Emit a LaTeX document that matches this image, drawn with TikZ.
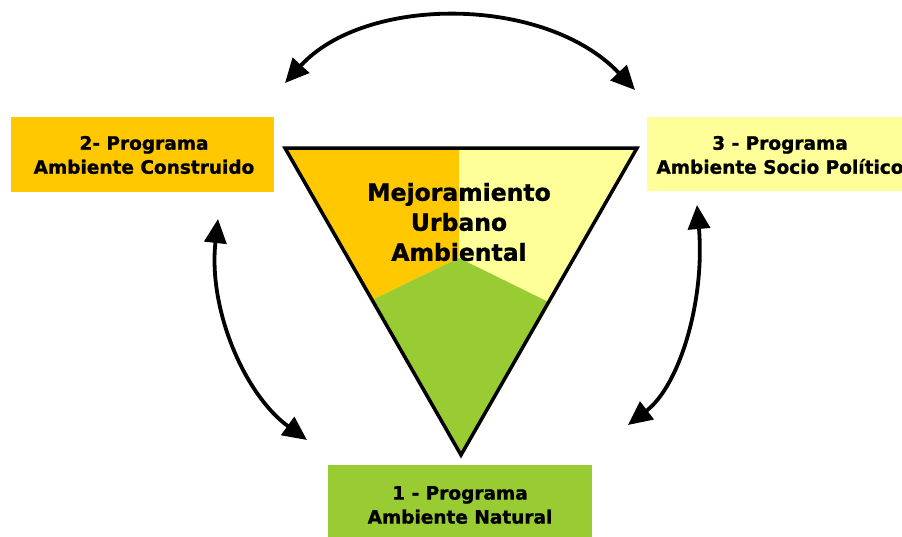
\documentclass[tikz,border=0pt]{standalone}
\usepackage{fontspec}
\setmainfont{DejaVu Sans}
\newfontfamily\heavyfont{DejaVu Sans Bold}[FakeBold=1.2]
\usetikzlibrary{arrows.meta}
\definecolor{orangeC}{RGB}{255,200,0}
\definecolor{yellowC}{RGB}{255,255,153}
\definecolor{greenC}{RGB}{153,204,51}
\tikzset{
  boxtext/.style={align=center,font=\heavyfont\bfseries\fontsize{18.5}{24}\selectfont,inner sep=0pt},
  bigtext/.style={align=center,font=\heavyfont\bfseries\fontsize{23.5}{30}\selectfont,inner sep=0pt},
  link/.style={line width=3.8pt,{Triangle[length=24pt,width=22pt]}-{Triangle[length=24pt,width=22pt]}},
  outline/.style={line width=3.5pt,line join=miter}
}
\begin{document}
\begin{tikzpicture}[x=1pt,y=-1pt]
\useasboundingbox (0,0) rectangle (902,536);
\begin{scope}
\clip (0,0) rectangle (902,536);
% boxes
\fill[orangeC] (11,117) rectangle (274,192);
\fill[yellowC] (647,117) rectangle (913,191);
\fill[greenC] (328,465) rectangle (592,545);
\node[boxtext] (b2) at (144,155) {2- Programa\\Ambiente Construido};
\node[boxtext] (b3) at (780,155) {3 - Programa\\Ambiente Socio Político};
\node[boxtext] (b1) at (460,505) {1 - Programa\\Ambiente Natural};
\end{scope}
% triangle
\coordinate (tl) at (285,148);
\coordinate (tm) at (459,148);
\coordinate (tr) at (637,148);
\coordinate (bt) at (461,455);
\coordinate (cm) at (459,258);
\coordinate (lp) at (372,300);
\coordinate (rp) at (548.5,302);
\fill[orangeC] (tl) -- (tm) -- (cm) -- (lp) -- cycle;
\fill[yellowC] (tm) -- (tr) -- (rp) -- (cm) -- cycle;
\fill[greenC] (lp) -- (cm) -- (rp) -- (bt) -- cycle;
\draw[outline] (tl) -- (tr) -- (bt) -- cycle;
\node[bigtext] (mid) at (459,222) {Mejoramiento\\Urbano\\Ambiental};
% arrows
\coordinate (a1s) at (285,83);
\coordinate (a1e) at (635,90);
\coordinate (a2s) at (218,219);
\coordinate (a2e) at (307,440);
\coordinate (a3s) at (697,205);
\coordinate (a3e) at (628,425);
\draw[link] (a1s) .. controls (365,-5) and (545,-5) .. (a1e);
\draw[link] (a2s) .. controls (208,310) and (245,395) .. (a2e);
\draw[link] (a3s) .. controls (705,300) and (680,385) .. (a3e);
\end{tikzpicture}
\end{document}
